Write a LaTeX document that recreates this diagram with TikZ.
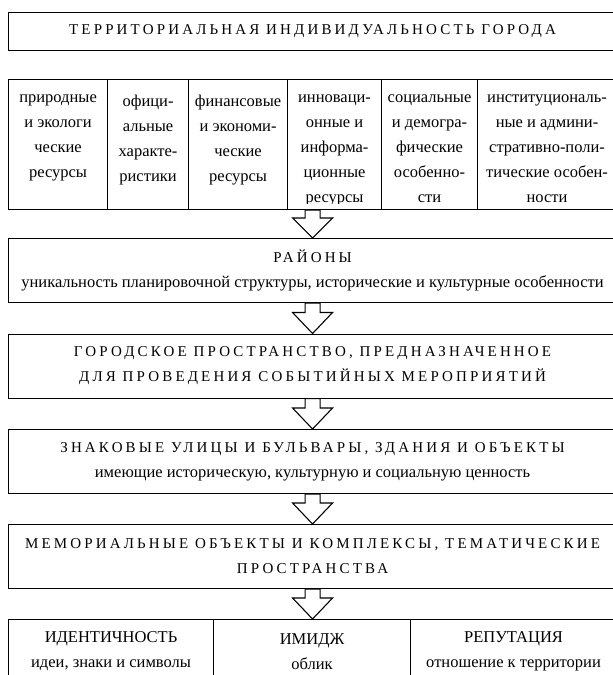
\documentclass[tikz,border=0pt]{standalone}
\usepackage{fontspec}
\setmainfont{Liberation Serif}
\newfontfamily\spacedfont[LetterSpace=21]{Liberation Serif}
\usetikzlibrary{calc}
\tikzset{
  box/.style={draw, line width=1.1pt, inner sep=0pt, minimum width=608pt, anchor=north west, align=center,
     font=\fontsize{16.5}{25}\selectfont},
  cell/.style={draw, line width=1.1pt, inner sep=0pt, anchor=north west, minimum height=130pt},
  bcell/.style={draw, line width=1.1pt, inner sep=0pt, anchor=north west, minimum height=64pt, align=center,
     font=\fontsize{16.5}{25}\selectfont},
  celltext/.style={anchor=north, align=center, inner sep=0pt, font=\fontsize{16.5}{25}\selectfont},
  arr/.style={draw, line width=1.1pt, fill=white, line join=miter},
}
\newcommand\caps[1]{{\spacedfont\fontsize{15}{25}\selectfont #1}}
\newcommand\bigarrow[3]{%
  \path[arr] let \p1=(#1.south), \p2=(#2.north) in
   (\x1-7.5pt,\y1) -- (\x1-7.5pt,\y2+#3) -- (\x1-20pt,\y2+#3) -- (\x1,\y2)
   -- (\x1+20pt,\y2+#3) -- (\x1+7.5pt,\y2+#3) -- (\x1+7.5pt,\y1) -- cycle;}
\begin{document}
\begin{tikzpicture}[x=1pt,y=-1pt]
\useasboundingbox (0,0) rectangle (613,675);
\clip (0,0) rectangle (613,675);
% top
\node[box, minimum height=38pt] (top) at (8,12) {\caps{ТЕРРИТОРИАЛЬНАЯ ИНДИВИДУАЛЬНОСТЬ ГОРОДА}};
% factor row
\node[cell, minimum width=99pt] (c1) at (8,79) {};
\node[cell, minimum width=81pt] (c2) at (107,79) {};
\node[cell, minimum width=99pt] (c3) at (188,79) {};
\node[cell, minimum width=94pt] (c4) at (287,79) {};
\node[cell, minimum width=96pt] (c5) at (381,79) {};
\node[cell, minimum width=139pt] (c6) at (477,79) {};
\coordinate (rowsouth) at ($(c1.south west)!0.5!(c6.south east)$);
\node[celltext] (t1) at ($(c1.north)+(0,16)$) {природные\\и экологи\\ческие\\ресурсы};
\node[celltext] (t2) at ($(c2.north)+(0,16)$) {офици-\\альные\\характе-\\ристики};
\node[celltext] (t3) at ($(c3.north)+(0,16)$) {финансовые\\и экономи-\\ческие\\ресурсы};
\begin{scope}
\clip ($(c4.south west)+(0,-7)$) rectangle (c4.north east);
\node[celltext] (t4) at ($(c4.north)+(0,16)$) {инноваци-\\онные и\\информа-\\ционные\\ресурсы};
\end{scope}
\node[celltext] (t5) at ($(c5.north)+(0,16)$) {социальные\\и демогра-\\фические\\особенно-\\сти};
\node[celltext] (t6) at ($(c6.north)+(0,16)$) {институциональ-\\ные и админи-\\стративно-поли-\\тические особен-\\ности};
% chain
\node[box, minimum height=64pt] (r) at (8,238) {\caps{РАЙОНЫ}\\уникальность планировочной структуры, исторические и культурные особенности};
\node[box, minimum height=64pt] (g) at (8,333.5) {\caps{ГОРОДСКОЕ ПРОСТРАНСТВО, ПРЕДНАЗНАЧЕННОЕ}\\\caps{ДЛЯ ПРОВЕДЕНИЯ СОБЫТИЙНЫХ МЕРОПРИЯТИЙ}};
\node[box, minimum height=64pt] (z) at (8,429) {\caps{ЗНАКОВЫЕ УЛИЦЫ И БУЛЬВАРЫ, ЗДАНИЯ И ОБЪЕКТЫ}\\имеющие историческую, культурную и социальную ценность};
\node[box, minimum height=64pt] (m) at (8,524) {\caps{МЕМОРИАЛЬНЫЕ ОБЪЕКТЫ И КОМПЛЕКСЫ, ТЕМАТИЧЕСКИЕ}\\\caps{ПРОСТРАНСТВА}};
% bottom row
\node[bcell, minimum width=205pt] (b1) at (8,619) {ИДЕНТИЧНОСТЬ\\идеи, знаки и символы};
\node[bcell, minimum width=197pt] (b2) at (213,619) {ИМИДЖ\\облик};
\node[bcell, minimum width=206pt] (b3) at (410,619) {РЕПУТАЦИЯ\\отношение к территории};
% arrows
\bigarrow{rowsouth}{r}{20pt}
\bigarrow{r}{g}{21pt}
\bigarrow{g}{z}{21pt}
\bigarrow{z}{m}{21pt}
\bigarrow{m}{b2}{21pt}
\end{tikzpicture}
\end{document}
